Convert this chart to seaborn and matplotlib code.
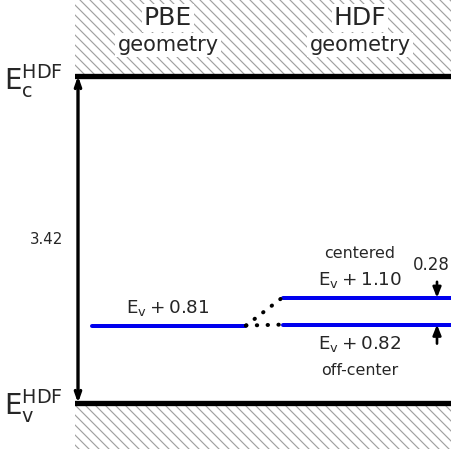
import numpy as np
import pandas as pd
import seaborn as sns
import matplotlib.pyplot as plt

# energies in eV relative to the HDF valence band maximum
GAP = 3.42
PBE_LEVEL = 0.81
HDF_LEVELS = [1.10, 0.82]
HDF_NAMES = ["centered", "off-center"]
COLUMNS = ["PBE", "HDF"]

DPI = 120
PX = 327 / GAP  # pixels per eV

sns.set_style("white")
plt.rcParams["font.family"] = ["DejaVu Sans"]
plt.rcParams["mathtext.fontset"] = "dejavusans"
plt.rcParams["hatch.linewidth"] = 0.7

fig = plt.figure(figsize=(451 / DPI, 454 / DPI), dpi=DPI)
ax = fig.add_axes([75 / 451, 0, 376 / 451, 1])
ax.set_xlim(0, 376)
ax.set_ylim(-51 / PX, 403 / PX)
ax.axis("off")

# hatched regions: conduction band above, valence band below
HATCH = "\\" * 4
ax.fill_between([0, 376], GAP, 403 / PX, hatch=HATCH, facecolor="white",
                edgecolor="#a0a0a0", linewidth=0)
ax.fill_between([0, 376], -46 / PX, 0, hatch=HATCH, facecolor="white",
                edgecolor="#a0a0a0", linewidth=0)

# band edges
edges = pd.DataFrame({
    "name": ["cbm", "cbm", "vbm", "vbm"],
    "x": [0, 376, 0, 376],
    "E": [GAP, GAP, 0, 0],
})
sns.lineplot(data=edges, x="x", y="E", units="name", estimator=None,
             color="black", lw=3.2, ax=ax, legend=False)

# defect levels
levels = pd.DataFrame({
    "name": ["pbe", "pbe", HDF_NAMES[0], HDF_NAMES[0], HDF_NAMES[1], HDF_NAMES[1]],
    "x": [17, 170, 208, 380, 208, 380],
    "E": [PBE_LEVEL, PBE_LEVEL, HDF_LEVELS[0], HDF_LEVELS[0],
          HDF_LEVELS[1], HDF_LEVELS[1]],
})
sns.lineplot(data=levels, x="x", y="E", units="name", estimator=None,
             color="#0000ee", lw=2.4, ax=ax, legend=False)

# dotted connectors
for lev in HDF_LEVELS:
    ax.plot([171, 207], [PBE_LEVEL, lev], color="black", ls=(0, (0.1, 2.6)),
            lw=2.4, dash_capstyle="round")

# gap arrow
ax.annotate("", xy=(3, 0), xytext=(3, GAP),
            arrowprops=dict(arrowstyle="<->,head_length=0.45,head_width=0.16",
                            lw=2, color="black", shrinkA=0, shrinkB=0))
ax.text(-28, GAP / 2, f"{GAP:.2f}", ha="center", va="center", fontsize=9,
        clip_on=False)
ax.text(-12, GAP - 5 / PX, r"$\mathrm{E_c^{HDF}}$", ha="right", va="center",
        fontsize=16.5, clip_on=False)
ax.text(-12, -3 / PX, r"$\mathrm{E_v^{HDF}}$", ha="right", va="center",
        fontsize=16.5, clip_on=False)

# column headings
for xc, col in zip([93, 285], COLUMNS):
    ax.text(xc, 385 / PX, col, ha="center", va="center", fontsize=15,
            bbox=dict(facecolor="white", edgecolor="none", pad=1.2))
    ax.text(xc, 358 / PX, "geometry", ha="center", va="center", fontsize=12.5,
            bbox=dict(facecolor="white", edgecolor="none", pad=1.2))

# level labels
ax.text(93, PBE_LEVEL + 18 / PX, rf"$\mathrm{{E_v}} + {PBE_LEVEL:.2f}$",
        ha="center", va="center", fontsize=11)
ax.text(285, HDF_LEVELS[0] + 18 / PX, rf"$\mathrm{{E_v}} + {HDF_LEVELS[0]:.2f}$",
        ha="center", va="center", fontsize=11)
ax.text(285, HDF_LEVELS[0] + 44 / PX, HDF_NAMES[0], ha="center", va="center",
        fontsize=9.5)
ax.text(285, HDF_LEVELS[1] - 19 / PX, rf"$\mathrm{{E_v}} + {HDF_LEVELS[1]:.2f}$",
        ha="center", va="center", fontsize=11)
ax.text(285, HDF_LEVELS[1] - 46 / PX, HDF_NAMES[1], ha="center", va="center",
        fontsize=9.5)

# splitting
split = HDF_LEVELS[0] - HDF_LEVELS[1]
ax.annotate("", xy=(362, HDF_LEVELS[0]), xytext=(362, HDF_LEVELS[0] + 16 / PX),
            arrowprops=dict(arrowstyle="-|>,head_length=0.5,head_width=0.2",
                            lw=1.6, color="black", shrinkA=0, shrinkB=0))
ax.annotate("", xy=(362, HDF_LEVELS[1]), xytext=(362, HDF_LEVELS[1] - 19 / PX),
            arrowprops=dict(arrowstyle="-|>,head_length=0.5,head_width=0.2",
                            lw=1.6, color="black", shrinkA=0, shrinkB=0))
ax.text(375, HDF_LEVELS[0] + 33 / PX, f"{split:.2f}", ha="right", va="center",
        fontsize=10, clip_on=False)

fig.savefig("out.png", dpi=DPI)
